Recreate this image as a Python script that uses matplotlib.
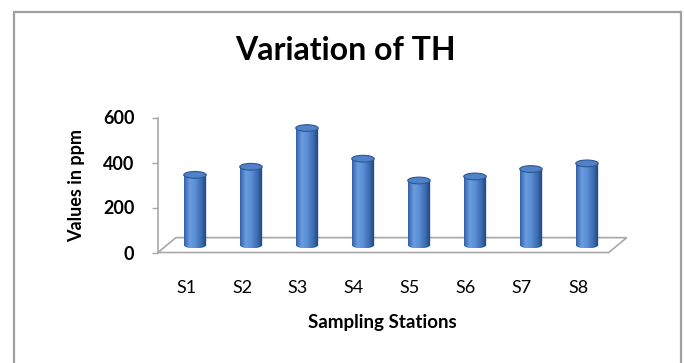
import numpy as np
import matplotlib.pyplot as plt
from matplotlib.patches import Rectangle, Ellipse, Polygon, PathPatch
from matplotlib.path import Path
from matplotlib.colors import LinearSegmentedColormap

plt.rcParams['font.family'] = ['Lato', 'DejaVu Sans']

stations = ["S1", "S2", "S3", "S4", "S5", "S6", "S7", "S8"]
th_values = [312, 348, 520, 384, 287, 305, 338, 363]
y_ticks = [0, 200, 400, 600]

# 3d look
depth_x = 0.32      # floor depth, in x units
depth_y = 66        # floor depth, in y units
bar_w = 0.40
ell_h = 30

cyl = LinearSegmentedColormap.from_list("cyl", ["#3562a6", "#6a9de0", "#5a8dd5", "#3d6db2", "#1f427a"])
grad = cyl(np.linspace(0, 1, 64)).reshape(1, 64, 4)

fig = plt.figure(figsize=(6.84, 3.63), dpi=100)
fig.patches.append(Rectangle((14/684, -0.05), (681-14)/684, 1 - 12/363 + 0.05,
                             transform=fig.transFigure, fill=False, ec="#a0a0a0", lw=1.6))

ax = fig.add_axes([158/684, (363-252.5)/363, (606-158)/684, 135/363])
x = np.arange(len(stations))
ax.set_xlim(-0.5, len(stations) - 0.5)
ax.set_ylim(0, 600)

# floor
x0, x1 = ax.get_xlim()
floor = Polygon([(x0, 0), (x1 + 0.05, 0), (x1 + 0.05 + depth_x, depth_y), (x0 + depth_x, depth_y)],
                closed=True, fc="white", ec="#a8a8a8", lw=1.2, clip_on=False, zorder=1)
ax.add_patch(floor)

# cylinders
for xi, v in zip(x, th_values):
    cx = xi + depth_x / 2
    base = depth_y / 2
    top = base + v
    left, right = cx - bar_w / 2, cx + bar_w / 2
    verts = [(left, top), (left, base)]
    t = np.linspace(np.pi, 2 * np.pi, 30)
    verts += [(cx + bar_w / 2 * np.cos(a), base + ell_h / 2 * np.sin(a)) for a in t]
    verts += [(right, top), (left, top)]
    clip = PathPatch(Path(verts), transform=ax.transData, fc="none", ec="none")
    ax.add_patch(clip)
    im = ax.imshow(grad, extent=(left, right, base - ell_h / 2, top), aspect="auto",
                   interpolation="bilinear", zorder=3)
    im.set_clip_path(clip)
    ax.add_patch(Ellipse((cx, top), bar_w, ell_h, fc="#4f82c8", ec="#2f5790", lw=0.8, zorder=4))

ax.set_xticks(x)
ax.set_xticklabels(stations, fontsize=13)
ax.set_yticks(y_ticks)
ax.set_yticklabels([str(t) for t in y_ticks], fontsize=13, fontweight="bold")
ax.tick_params(axis="x", length=0, pad=20)
ax.tick_params(axis="y", length=4, width=1, color="#a8a8a8", pad=13)

for s in ["top", "right", "bottom"]:
    ax.spines[s].set_visible(False)
ax.spines["left"].set_color("#a8a8a8")
ax.spines["left"].set_linewidth(1.2)
ax.set_facecolor("none")

ax.set_ylabel("Values in ppm", fontsize=13, fontweight="bold", labelpad=13)
ax.set_xlabel("Sampling Stations", fontsize=13.5, fontweight="bold", labelpad=13)
fig.text(345/684, 1 - 51/363, "Variation of TH", fontsize=23, fontweight="bold",
         ha="center", va="center")

fig.savefig("out.png", dpi=100)
